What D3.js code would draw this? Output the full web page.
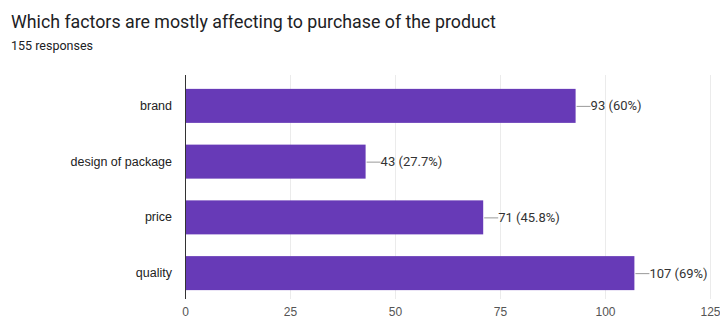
<!DOCTYPE html>
<html>
<head>
<meta charset="utf-8">
<script src="https://cdn.jsdelivr.net/npm/d3@7"></script>
<style>
  html, body { margin: 0; padding: 0; background: #fff; }
  svg { display: block; font-family: Roboto, Arial, sans-serif; }
</style>
</head>
<body>
<svg id="chart" width="720" height="322"></svg>
<script>
const title = "Which factors are mostly affecting to purchase of the product";
const subtitle = "155 responses";
const categories = ["brand", "design of package", "price", "quality"];
const counts = [93, 43, 71, 107];
const percentLabels = ["60%", "27.7%", "45.8%", "69%"];
const xTicks = [0, 25, 50, 75, 100, 125];

const svg = d3.select("#chart");

svg.append("text")
  .attr("x", 11).attr("y", 28)
  .attr("font-size", 17.8).attr("fill", "#202124")
  .text(title);
svg.append("text")
  .attr("x", 11).attr("y", 50)
  .attr("font-size", 12.5).attr("fill", "#202124")
  .text(subtitle);

const x = d3.scaleLinear().domain([0, 125]).range([185, 710]);
const y = d3.scaleBand().domain(categories).range([78, 301]).paddingInner(0.39).paddingOuter(0.195);

// vertical grid lines
svg.append("g")
  .selectAll("line")
  .data(xTicks.slice(1))
  .join("line")
  .attr("x1", d => x(d) + 0.5).attr("x2", d => x(d) + 0.5)
  .attr("y1", 75).attr("y2", 299)
  .attr("stroke", "#ebebeb").attr("stroke-width", 1);

// x axis tick labels
const xAxis = d3.axisBottom(x).tickValues(xTicks).tickSize(0).tickPadding(0);
const gx = svg.append("g").attr("transform", "translate(0,305)").call(xAxis);
gx.select(".domain").remove();
gx.selectAll("text").attr("font-size", 12).attr("fill", "#555").attr("dy", "0.9em");

// bars
const rows = categories.map((c, i) => ({ c, v: counts[i], p: percentLabels[i] }));
svg.append("g")
  .selectAll("rect")
  .data(rows)
  .join("rect")
  .attr("x", x(0)).attr("y", d => y(d.c))
  .attr("width", d => x(d.v) - x(0)).attr("height", y.bandwidth())
  .attr("fill", "#673ab7");

// category labels
const yAxis = d3.axisLeft(y).tickSize(0).tickPadding(13);
const gy = svg.append("g").attr("transform", `translate(${x(0)},0)`).call(yAxis);
gy.select(".domain").remove();
gy.selectAll("text").attr("font-size", 12.5).attr("fill", "#222");

// baseline axis line
svg.append("line")
  .attr("x1", x(0) + 0.5).attr("x2", x(0) + 0.5)
  .attr("y1", 75).attr("y2", 299)
  .attr("stroke", "#333").attr("stroke-width", 1);

// value annotations with leader lines
const ann = svg.append("g").selectAll("g").data(rows).join("g");
ann.append("line")
  .attr("x1", d => x(d.v) + 1).attr("x2", d => x(d.v) + 15)
  .attr("y1", d => y(d.c) + y.bandwidth() / 2 + 0.5)
  .attr("y2", d => y(d.c) + y.bandwidth() / 2 + 0.5)
  .attr("stroke", "#999").attr("stroke-width", 1);
ann.append("text")
  .attr("x", d => x(d.v) + 15)
  .attr("y", d => y(d.c) + y.bandwidth() / 2)
  .attr("dy", "0.35em")
  .attr("font-size", 13).attr("fill", "#333")
  .text(d => `${d.v} (${d.p})`);
</script>
</body>
</html>
